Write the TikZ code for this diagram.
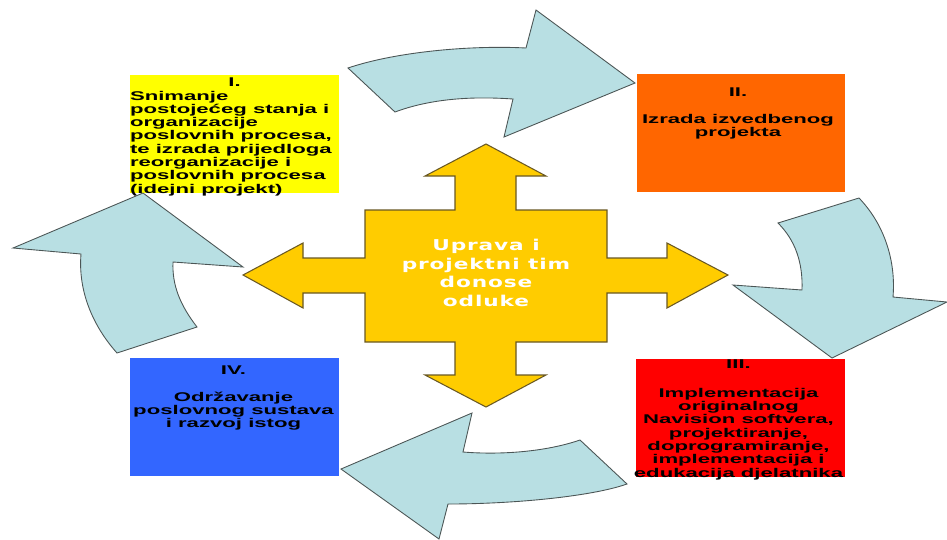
\documentclass[tikz,border=0pt]{standalone}
\usepackage{fontspec}
\usepackage{tikz}
\usetikzlibrary{positioning}
\usetikzlibrary{calc}

\newfontfamily\boxfont[FakeStretch=1.75]{Liberation Sans}
\newfontfamily\centrefont[FakeStretch=1.45,LetterSpace=6]{DejaVu Sans}

\definecolor{turq}{RGB}{184,223,227}
\definecolor{turqline}{RGB}{75,85,85}
\definecolor{gold}{RGB}{255,204,0}
\definecolor{goldline}{RGB}{105,88,35}
\definecolor{phaseone}{RGB}{255,255,0}
\definecolor{phasetwo}{RGB}{255,102,0}
\definecolor{phasethree}{RGB}{255,0,0}
\definecolor{phasefour}{RGB}{51,102,255}

\tikzset{
  cyclearrow/.style={fill=turq, draw=turqline, line width=0.5pt, line join=miter},
  crossarrow/.style={fill=gold, draw=goldline, line width=0.6pt, line join=miter},
  phasebox/.style={rectangle, inner sep=0pt, minimum width=4.18cm, minimum height=2.36cm},
  phasetext/.style={inner sep=0pt, text=black,
    font=\boxfont\bfseries\fontsize{7.2pt}{7.57pt}\selectfont},
  centretext/.style={inner sep=0pt, text=white, align=center,
    font=\centrefont\bfseries\fontsize{8.5pt}{10.5pt}\selectfont},
}

\begin{document}
\begin{tikzpicture}[x=0.02cm, y=-0.02cm]

  \useasboundingbox (0,0) rectangle (947,539);

  % phase boxes
  \node[phasebox, fill=phaseone]   (s1) at (234.5,134) {};
  \node[phasebox, fill=phasetwo]   (s2) at (741,133)   {};
  \node[phasebox, fill=phasethree] (s3) at (740.5,417.5) {};
  \node[phasebox, fill=phasefour]  (s4) at (234.5,417) {};

  \node[phasetext, anchor=north west, align=left] (t1) at ($ (s1.north west) + (0,3) $)
    {\makebox[4.18cm]{I.}\\
     Snimanje\\
     postoje\'{c}eg stanja i\\
     organizacije\\
     poslovnih procesa,\\
     te izrada prijedloga\\
     reorganizacije i\\
     poslovnih procesa\\
     (idejni projekt)};

  \node[phasetext, anchor=north, align=center] (t2) at ($ (s2.north) + (-3,14) $)
    {II.\\[7.6pt]
     Izrada izvedbenog\\
     projekta};

  \node[phasetext, anchor=north, align=center] (t3) at ($ (s3.north) + (-2,1) $)
    {III.\\[9pt]
     Implementacija\\
     originalnog\\
     Navision softvera,\\
     projektiranje,\\
     doprogramiranje,\\
     implementacija i\\
     edukacija djelatnika};

  \node[phasetext, anchor=north, align=center] (t4) at ($ (s4.north) + (-1,8) $)
    {IV.\\[7.6pt]
     Odr\v{z}avanje\\
     poslovnog sustava\\
     i razvoj istog};

  % curved arrows of the cycle
  \draw[cyclearrow] (348,68) -- (395,112)
    .. controls (430,99) and (470,96) .. (513,99)
    -- (504,137) -- (635,83) -- (536,10) -- (526,48)
    .. controls (470,45) and (395,52) .. cycle;

  \draw[cyclearrow] (859,198) -- (778,223)
    .. controls (795,240) and (803,262) .. (802,290)
    -- (733,285) -- (832,358) -- (947,302) -- (893,297)
    .. controls (896,262) and (885,225) .. cycle;

  \draw[cyclearrow] (580,440) -- (627,484)
    .. controls (590,497) and (510,504) .. (448,504)
    -- (439,539) -- (341,469) -- (472,413) -- (463,452)
    .. controls (500,455) and (545,452) .. cycle;

  \draw[cyclearrow] (117,353) -- (197,327)
    .. controls (180,305) and (172,285) .. (173,262)
    -- (243,267) -- (143,193) -- (13,248) -- (81,254)
    .. controls (78,290) and (92,325) .. cycle;

  % four-way arrow in the middle
  \draw[crossarrow] (486,144) -- (546,176) -- (516,176) -- (516,210)
    -- (607,210) -- (607,258) -- (667,258) -- (667,243) -- (728,275)
    -- (667,308) -- (667,293) -- (607,293) -- (607,342)
    -- (516,342) -- (516,375) -- (546,375) -- (486,407)
    -- (425,375) -- (455,375) -- (455,342) -- (365,342)
    -- (365,293) -- (303,293) -- (303,308) -- (243,275)
    -- (303,243) -- (303,258) -- (365,258) -- (365,210)
    -- (455,210) -- (455,176) -- (425,176) -- cycle;

  \node[centretext] (centre) at (486,273)
    {Uprava i\\ projektni tim\\ donose\\ odluke};

\end{tikzpicture}
\end{document}
